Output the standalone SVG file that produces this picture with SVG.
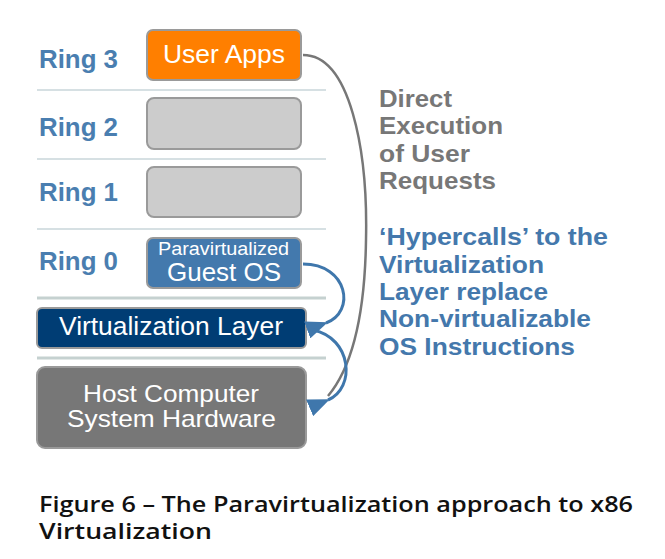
<svg xmlns="http://www.w3.org/2000/svg" width="665" height="559" viewBox="0 0 665 559">
<style>
.ring{font-family:"Liberation Sans",Arial,sans-serif;font-weight:bold;font-size:25px;fill:#4a7eb0}
.lbl{font-family:"Liberation Sans",Arial,sans-serif;fill:#ffffff}
.side{font-family:"Liberation Sans",Arial,sans-serif;font-weight:bold;font-size:24px}
.gray{fill:#777777}
.blue{fill:#4478ac}
.cap{font-family:"Open Sans","Noto Sans",sans-serif;font-weight:600;font-size:22px;fill:#111111}
.sep{stroke:#c9d6da;stroke-width:1.5}
.sepk{stroke:#c5d1d0;stroke-width:3}
.box{stroke:#9a9a9a;stroke-width:2}
</style>
<defs>
<marker id="ah" viewBox="0 0 22 18" refX="2" refY="9" markerWidth="22" markerHeight="18" markerUnits="userSpaceOnUse" orient="auto">
<path d="M0,9 L22,0 L22,18 Z" fill="#3f77ac"/>
</marker>
</defs>
<rect width="665" height="559" fill="#ffffff"/>
<g id="separators">
<line class="sep" x1="37" y1="90" x2="326" y2="90"/>
<line class="sep" x1="37" y1="159" x2="326" y2="159"/>
<line class="sep" x1="37" y1="229" x2="326" y2="229"/>
<line class="sepk" x1="37" y1="298" x2="326" y2="298"/>
<line class="sepk" x1="37" y1="358" x2="326" y2="358"/>
</g>
<g id="ring-labels">
<text class="ring" x="39" y="68" textLength="79" lengthAdjust="spacingAndGlyphs">Ring 3</text>
<text class="ring" x="39" y="136" textLength="79" lengthAdjust="spacingAndGlyphs">Ring 2</text>
<text class="ring" x="39" y="201" textLength="79" lengthAdjust="spacingAndGlyphs">Ring 1</text>
<text class="ring" x="39" y="270" textLength="79" lengthAdjust="spacingAndGlyphs">Ring 0</text>
</g>
<g id="user-apps">
<rect class="box" x="147" y="30" width="154" height="50" rx="6" fill="#ff7f00"/>
<text class="lbl" x="163" y="63" font-size="25" textLength="122" lengthAdjust="spacingAndGlyphs">User Apps</text>
</g>
<g id="ring2-box">
<rect class="box" x="147" y="98" width="154" height="51" rx="7" fill="#cccccc"/>
</g>
<g id="ring1-box">
<rect class="box" x="147" y="167" width="154" height="50" rx="7" fill="#cccccc"/>
</g>
<g id="guest-os">
<rect class="box" x="147" y="238" width="154" height="50" rx="6" fill="#4379ad"/>
<text class="lbl" x="158" y="255" font-size="18" textLength="131" lengthAdjust="spacingAndGlyphs" fill="#f0f4f8">Paravirtualized</text>
<text class="lbl" x="167" y="281" font-size="25" textLength="114" lengthAdjust="spacingAndGlyphs">Guest OS</text>
</g>
<g id="virtualization-layer">
<rect class="box" x="37" y="308" width="269" height="40" rx="5" fill="#003d74" stroke="#888888"/>
<text class="lbl" x="59" y="335" font-size="25" textLength="224" lengthAdjust="spacingAndGlyphs">Virtualization Layer</text>
</g>
<g id="host-hardware">
<rect class="box" x="37" y="367" width="269" height="81" rx="8" fill="#777777" stroke="#999999"/>
<text class="lbl" x="83" y="402" font-size="24" textLength="176" lengthAdjust="spacingAndGlyphs" fill="#f2f2f2">Host Computer</text>
<text class="lbl" x="67" y="427" font-size="24" textLength="209" lengthAdjust="spacingAndGlyphs" fill="#f2f2f2">System Hardware</text>
</g>
<g id="connectors" fill="none">
<path d="M303,55 C350,55 368,150 366,240 C365,310 354,365 328,396" stroke="#777777" stroke-width="2.5"/>
<path d="M303,264 C348,264 356,312 326,323" stroke="#3f77ac" stroke-width="3" marker-end="url(#ah)"/>
<path d="M313,330 C352,338 356,388 328,400" stroke="#3f77ac" stroke-width="3" marker-end="url(#ah)"/>
</g>
<g id="annotations">
<text class="side gray" x="379" y="107" textLength="73" lengthAdjust="spacingAndGlyphs">Direct</text>
<text class="side gray" x="379" y="134" textLength="124" lengthAdjust="spacingAndGlyphs">Execution</text>
<text class="side gray" x="379" y="162" textLength="91" lengthAdjust="spacingAndGlyphs">of User</text>
<text class="side gray" x="379" y="189" textLength="117" lengthAdjust="spacingAndGlyphs">Requests</text>
<text class="side blue" x="379" y="245" textLength="229" lengthAdjust="spacingAndGlyphs">‘Hypercalls’ to the</text>
<text class="side blue" x="379" y="273" textLength="165" lengthAdjust="spacingAndGlyphs">Virtualization</text>
<text class="side blue" x="379" y="300" textLength="169" lengthAdjust="spacingAndGlyphs">Layer replace</text>
<text class="side blue" x="379" y="327" textLength="212" lengthAdjust="spacingAndGlyphs">Non-virtualizable</text>
<text class="side blue" x="379" y="355" textLength="196" lengthAdjust="spacingAndGlyphs">OS Instructions</text>
</g>
<g id="caption">
<text class="cap" x="39" y="512" textLength="594" lengthAdjust="spacingAndGlyphs">Figure 6 – The Paravirtualization approach to x86</text>
<text class="cap" x="39" y="539" textLength="173" lengthAdjust="spacingAndGlyphs">Virtualization</text>
</g>
</svg>
